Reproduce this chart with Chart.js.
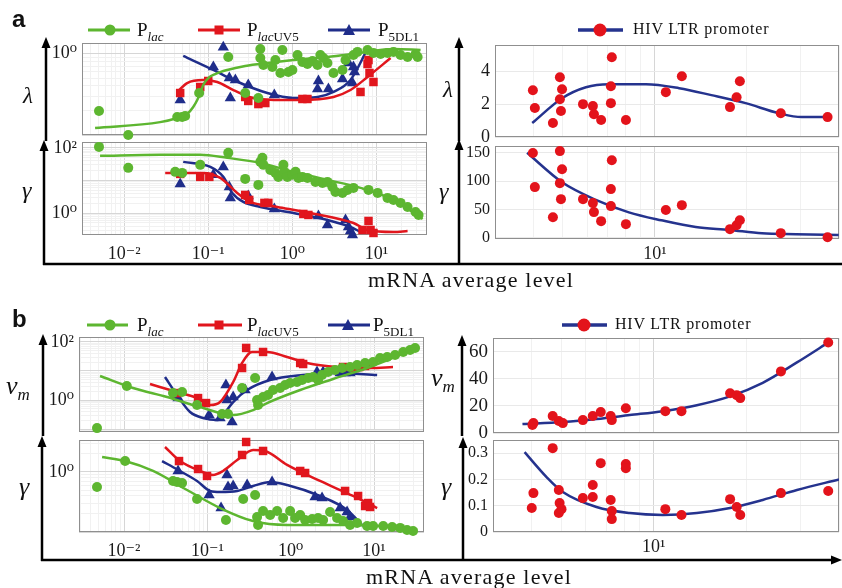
<!DOCTYPE html>
<html>
<head>
<meta charset="utf-8">
<script src="https://cdn.jsdelivr.net/npm/chart.js@4.4.0/dist/chart.umd.min.js"></script>
<style>
body { margin: 0; background: #fff; width: 842px; height: 588px; position: relative; overflow: hidden; font-family: 'Liberation Serif', 'DejaVu Serif', serif; color: #111; }
canvas { position: absolute; }
.t { position: absolute; line-height: 1; white-space: nowrap; }
.sym { font-style: italic; }
.lg { font-size: 19px; }
.lg sub { font-size: 13px; vertical-align: -5px; line-height: 0; }
</style>
</head>
<body>
<svg id="ov" width="842" height="588" style="position:absolute;left:0;top:0;pointer-events:none">
  <g stroke="#000" stroke-width="2.5" fill="#000">
    <!-- panel a axes -->
    <line x1="46" y1="141" x2="46" y2="45"/><polygon points="41.5,48 46,37 50.5,48" stroke="none"/>
    <line x1="44" y1="265" x2="44" y2="148"/><polygon points="39.5,151 44,140 48.5,151" stroke="none"/>
    <line x1="43" y1="264" x2="842" y2="264"/>
    <line x1="459" y1="141" x2="459" y2="45"/><polygon points="454.5,48 459,37 463.5,48" stroke="none"/>
    <line x1="459" y1="264" x2="459" y2="147"/><polygon points="454.5,150 459,139 463.5,150" stroke="none"/>
    <!-- panel b axes -->
    <line x1="43" y1="436" x2="43" y2="342"/><polygon points="38.5,345 43,334 47.5,345" stroke="none"/>
    <line x1="42" y1="561" x2="42" y2="444"/><polygon points="37.5,447 42,436 46.5,447" stroke="none"/>
    <line x1="41" y1="560" x2="834" y2="560"/><polygon points="831,555.5 842,560 831,564.5" stroke="none"/>
    <line x1="462" y1="436" x2="462" y2="343"/><polygon points="457.5,346 462,335 466.5,346" stroke="none"/>
    <line x1="463" y1="561" x2="463" y2="445"/><polygon points="458.5,448 463,437 467.5,448" stroke="none"/>
  </g>
  <!-- legend keys -->
  <g stroke-width="3">
    <line x1="88" y1="30" x2="130" y2="30" stroke="#5db630"/><circle cx="110" cy="30" r="5.5" fill="#5db630"/>
    <line x1="198" y1="30" x2="240" y2="30" stroke="#e1161d"/><rect x="214.5" y="25.5" width="9" height="9" fill="#e1161d"/>
    <line x1="328" y1="30" x2="370" y2="30" stroke="#1f2d8a"/><polygon points="349,24 343,35 355,35" fill="#1f2d8a"/>
    <line x1="578" y1="30" x2="623" y2="30" stroke="#25338e" stroke-width="3.5"/><circle cx="600" cy="30" r="6.5" fill="#e3131b"/>
    <line x1="87" y1="325" x2="128" y2="325" stroke="#5db630"/><circle cx="110" cy="325" r="5.5" fill="#5db630"/>
    <line x1="198" y1="325" x2="242" y2="325" stroke="#e1161d"/><rect x="214.5" y="320.5" width="9" height="9" fill="#e1161d"/>
    <line x1="328" y1="325" x2="370" y2="325" stroke="#1f2d8a"/><polygon points="348,319 342,330 354,330" fill="#1f2d8a"/>
    <line x1="562" y1="325" x2="607" y2="325" stroke="#25338e" stroke-width="3.5"/><circle cx="584" cy="325" r="6.5" fill="#e3131b"/>
  </g>
</svg>

<div class="t" style="left:12px;top:5px;font:bold 24px 'Liberation Sans',sans-serif">a</div>
<div class="t" style="left:12px;top:305px;font:bold 24px 'Liberation Sans',sans-serif">b</div>

<div class="t lg" style="left:137px;top:20px">P<sub><i>lac</i></sub></div>
<div class="t lg" style="left:247px;top:20px">P<sub><i>lac</i>UV5</sub></div>
<div class="t lg" style="left:378px;top:20px">P<sub>5DL1</sub></div>
<div class="t" style="left:633px;top:21px;font-size:16px;letter-spacing:0.8px">HIV LTR promoter</div>
<div class="t lg" style="left:137px;top:315px">P<sub><i>lac</i></sub></div>
<div class="t lg" style="left:247px;top:315px">P<sub><i>lac</i>UV5</sub></div>
<div class="t lg" style="left:373px;top:315px">P<sub>5DL1</sub></div>
<div class="t" style="left:615px;top:316px;font-size:16px;letter-spacing:0.8px">HIV LTR promoter</div>

<div class="t sym" style="left:23px;top:84px;font-size:23px">λ</div>
<div class="t sym" style="left:22px;top:178px;font-size:24px">γ</div>
<div class="t sym" style="left:443px;top:78px;font-size:23px">λ</div>
<div class="t sym" style="left:439px;top:179px;font-size:24px">γ</div>
<div class="t sym" style="left:6px;top:373px;font-size:26px">v<sub style="font-size:17px;vertical-align:-6px;line-height:0">m</sub></div>
<div class="t sym" style="left:19px;top:474px;font-size:26px">γ</div>
<div class="t sym" style="left:431px;top:365px;font-size:26px">v<sub style="font-size:17px;vertical-align:-6px;line-height:0">m</sub></div>
<div class="t sym" style="left:441px;top:474px;font-size:26px">γ</div>

<div class="t" style="left:368px;top:269px;font-size:22px;letter-spacing:1.2px">mRNA average level</div>
<div class="t" style="left:366px;top:566px;font-size:22px;letter-spacing:1.2px">mRNA average level</div>

<script>
// ----------------------
// Data
// ----------------------

// tick labels (exponents of ten on log axes, values on linear axes)
const leftXExps = [-2, -1, 0, 1];
const rightXExps = [1];
const aLamExps = [0];
const aGamExps = [0, 2];
const bVmExps = [0, 2];
const bGamExps = [0];
const aHivLamTicks = [0, 2, 4];
const aHivGamTicks = [0, 50, 100, 150];
const bHivVmTicks = [0, 20, 40, 60];
const bHivGamTicks = [0, 0.1, 0.2, 0.3];

// panel a, left, lambda
const aLamLacX = [0.00503, 0.0112, 0.0428, 0.049, 0.0532, 0.078, 0.173, 0.275, 0.394, 0.416, 0.416, 0.452, 0.578, 0.628, 0.76, 0.72, 0.896, 1.0, 1.15, 1.315, 1.51, 1.73, 1.99, 2.15, 2.34, 2.61, 3.08, 3.94, 4.28, 5.32, 5.94, 7.82, 9.2, 11.2, 13.5, 15.9, 19.3, 23.4, 29.1, 30.8];
const aLamLacY = [0.197, 0.1, 0.166, 0.166, 0.171, 0.328, 0.91, 0.328, 0.285, 1.14, 0.883, 0.724, 0.684, 0.834, 1.11, 0.578, 0.594, 0.629, 0.96, 0.789, 0.745, 0.811, 0.724, 0.96, 0.883, 0.767, 0.578, 0.629, 0.834, 0.96, 1.05, 1.11, 1.02, 0.99, 1.02, 1.05, 0.96, 0.91, 0.99, 0.91];
const aLamLacFitX = [0.00452, 0.0268, 0.0428, 0.0562, 0.0663, 0.074, 0.0803, 0.0871, 0.1, 0.121, 0.168, 0.275, 0.504, 1.03, 2.61, 6.45, 15.9, 33.4];
const aLamLacFitY = [0.122, 0.144, 0.162, 0.181, 0.221, 0.269, 0.328, 0.411, 0.501, 0.561, 0.629, 0.704, 0.767, 0.834, 0.91, 1.02, 1.14, 1.11];
const aLamUv5X = [0.0464, 0.0803, 0.1, 0.275, 0.299, 0.394, 0.477, 1.315, 1.51, 6.45, 7.82, 8.03, 8.25, 9.2];
const aLamUv5Y = [0.328, 0.389, 0.461, 0.293, 0.262, 0.24, 0.247, 0.277, 0.277, 0.338, 0.745, 0.834, 0.578, 0.448];
const aLamUv5FitX = [0.0428, 0.0562, 0.0871, 0.128, 0.199, 0.343, 0.782, 1.245, 3.08, 4.9, 7.82, 14.7];
const aLamUv5FitY = [0.338, 0.435, 0.474, 0.448, 0.357, 0.285, 0.269, 0.269, 0.293, 0.357, 0.516, 0.883];
const aLamDlX = [0.0464, 0.151, 0.115, 0.178, 0.21, 0.183, 0.299, 0.61, 2.04, 1.99, 2.68, 3.94, 4.64, 5.32, 5.47, 5.18];
const aLamDlY = [0.269, 1.2, 0.684, 0.501, 0.474, 0.285, 0.411, 0.31, 0.46, 0.367, 0.367, 0.488, 0.767, 0.684, 0.594, 0.435];
const aLamDlFitX = [0.0504, 0.115, 0.199, 0.504, 1.03, 1.99, 3.08, 4.9, 7.82];
const aLamDlFitY = [0.935, 0.629, 0.474, 0.328, 0.285, 0.293, 0.338, 0.474, 1.14];

// panel a, left, gamma
const aGamLacX = [0.00503, 0.0112, 0.0405, 0.049, 0.0803, 0.173, 0.275, 0.394, 0.44, 0.416, 0.452, 0.547, 0.628, 0.681, 0.782, 0.803, 0.872, 1.0, 1.09, 1.18, 1.315, 1.51, 1.88, 2.28, 2.61, 2.99, 3.25, 3.94, 4.52, 5.32, 8.03, 10.3, 13.5, 15.9, 19.3, 23.4, 29.1, 31.6];
const aGamLacY = [107, 24.4, 18.4, 17.1, 30.1, 70.3, 11.2, 7.33, 49.3, 37.2, 30.1, 21.1, 17.1, 12.9, 30.1, 18.4, 12.9, 14.9, 18.4, 12.0, 12.9, 12.0, 9.06, 8.44, 9.06, 6.36, 4.47, 4.17, 5.15, 5.93, 5.15, 4.17, 2.93, 2.54, 2.06, 1.55, 1.09, 0.88];
const aGamLacFitX = [0.00518, 0.0268, 0.0803, 0.168, 0.416, 1.03, 2.61, 6.45, 15.9, 35.3];
const aGamLacFitY = [56.9, 61, 61, 49.3, 34.7, 18.4, 10.4, 5.93, 2.54, 0.664];
const aGamUv5X = [0.0464, 0.0803, 0.103, 0.275, 0.307, 0.465, 0.518, 1.35, 1.55, 6.81, 8.03, 8.49, 9.2];
const aGamUv5Y = [15.9, 12.9, 12.9, 3.61, 2.54, 2.06, 2.06, 0.945, 0.88, 0.305, 0.576, 0.305, 0.247];
const aGamUv5FitX = [0.0308, 0.0871, 0.139, 0.221, 0.316, 0.663, 1.64, 5.32, 7.82, 15.9, 23.4];
const aGamUv5FitY = [17.1, 17.1, 12.0, 4.17, 2.21, 1.55, 1.01, 0.5, 0.305, 0.265, 0.284];
const aGamDlX = [0.0464, 0.151, 0.115, 0.178, 0.183, 0.299, 0.61, 2.04, 2.61, 4.28, 4.64, 4.9, 5.18];
const aGamDlY = [7.87, 26.1, 14.9, 6.36, 2.93, 3.37, 1.35, 0.82, 0.434, 0.618, 0.377, 0.284, 0.214];
const aGamDlFitX = [0.0504, 0.106, 0.151, 0.193, 0.261, 0.416, 1.03, 2.61, 4.9, 6.45];
const aGamDlFitY = [37.2, 26.1, 12.9, 4.17, 2.21, 1.55, 1.01, 0.618, 0.377, 0.265];

// panel a, right, HIV LTR promoter
const aHivX = [3.99, 4.05, 4.64, 4.89, 4.97, 4.89, 4.93, 5.82, 6.27, 6.32, 6.67, 7.23, 7.18, 7.18, 8.04, 10.86, 12.25, 17.6, 18.5, 18.96, 25.8, 36.7];
const aHivLam = [2.85, 1.76, 0.85, 3.64, 2.91, 2.3, 1.58, 2.0, 1.88, 1.39, 1.03, 4.85, 3.09, 2.06, 1.03, 2.73, 3.7, 1.82, 2.42, 3.39, 1.45, 1.21];
const aHivGam = [149.5, 89.5, 36.5, 153, 121, 96.5, 68.3, 68.3, 61.3, 45.4, 29.5, 137, 86, 56, 24.2, 49, 57.7, 15.4, 22.4, 31.2, 8.3, 1.2];
const aHivLamFitX = [3.97, 4.97, 5.95, 7.08, 9.35, 12.0, 15.3, 19.8, 25.4, 30.2, 37.8];
const aHivLamFitY = [0.85, 2.36, 3.03, 3.21, 3.21, 2.97, 2.55, 2.06, 1.45, 1.21, 1.21];
const aHivGamFitX = [3.82, 4.97, 6.41, 8.22, 10.5, 13.6, 17.5, 22.4, 28.9, 39.9];
const aHivGamFitY = [150, 98, 67, 45, 31, 19, 14, 8, 6.5, 5];

// panel b, left, v_m
const bVmLacX = [0.00474, 0.0108, 0.0387, 0.0497, 0.0752, 0.15, 0.177, 0.261, 0.374, 0.395, 0.406, 0.466, 0.535, 0.615, 0.746, 0.857, 0.984, 1.19, 1.37, 1.62, 1.86, 2.13, 2.38, 2.81, 3.41, 4.14, 5.16, 6.27, 7.82, 9.75, 11.8, 14.4, 17.9, 22.4, 27.1, 31.1];
const bVmLacY = [0.108, 3.04, 1.74, 1.89, 0.672, 0.329, 0.329, 2.59, 5.74, 1.0, 0.672, 1.27, 1.49, 2.21, 2.59, 3.29, 3.86, 4.18, 4.89, 5.74, 6.21, 4.89, 7.28, 9.24, 10.8, 12.7, 13.7, 16.1, 18.9, 20.4, 28.1, 30.4, 35.6, 45.2, 53, 62.1];
const bVmLacFitX = [0.00515, 0.0128, 0.0328, 0.0817, 0.204, 0.354, 0.521, 1.3, 3.23, 8.26, 20.6, 32.9];
const bVmLacFitY = [6.7, 2.59, 1.27, 0.574, 0.304, 0.452, 0.788, 2.21, 5.3, 12.7, 35.6, 67.3];
const bVmUv5X = [0.0432, 0.0773, 0.0964, 0.261, 0.292, 0.466, 1.3, 1.41, 4.25, 5.93, 6.62, 7.82, 8.73];
const bVmUv5Y = [1.74, 1.17, 0.788, 12.7, 62.1, 45.2, 18.9, 17.4, 13.7, 12.7, 13.7, 14.9, 17.4];
const bVmUv5FitX = [0.0205, 0.0432, 0.0752, 0.108, 0.142, 0.204, 0.261, 0.344, 0.521, 0.906, 1.57, 3.6, 8.97, 16.9];
const bVmUv5FitY = [3.56, 1.89, 1.17, 0.672, 0.853, 4.18, 18.9, 45.2, 45.2, 30.4, 18.9, 13.7, 12.7, 13.7];
const bVmDlX = [0.041, 0.0445, 0.105, 0.142, 0.167, 0.172, 0.198, 0.204, 0.284, 0.598, 2.07, 2.45, 3.92, 4.5, 5.16];
const bVmDlY = [1.49, 1.17, 0.304, 0.24, 3.29, 1.0, 0.174, 1.27, 2.21, 6.21, 9.24, 9.24, 8.53, 8.53, 8.53];
const bVmDlFitX = [0.031, 0.0432, 0.062, 0.0887, 0.131, 0.154, 0.204, 0.3, 0.566, 1.41, 3.6, 10.9];
const bVmDlFitY = [6.21, 1.49, 0.386, 0.24, 0.204, 0.304, 0.853, 2.21, 4.89, 7.28, 8.53, 7.28];

// panel b, left, gamma
const bGamLacX = [0.00474, 0.0103, 0.0387, 0.0432, 0.0497, 0.0752, 0.167, 0.269, 0.374, 0.395, 0.406, 0.466, 0.567, 0.687, 0.811, 0.984, 1.13, 1.3, 1.49, 1.81, 2.13, 2.45, 2.97, 3.6, 4.25, 5.16, 6.27, 8.26, 9.75, 12.9, 16.5, 20.6, 24.9, 29.4];
const bGamLacY = [0.562, 1.52, 0.708, 0.681, 0.655, 0.355, 0.158, 0.355, 0.414, 0.178, 0.131, 0.224, 0.192, 0.224, 0.171, 0.224, 0.171, 0.192, 0.158, 0.165, 0.171, 0.158, 0.215, 0.171, 0.152, 0.131, 0.141, 0.126, 0.126, 0.126, 0.121, 0.117, 0.108, 0.104];
const bGamLacFitX = [0.00545, 0.0103, 0.0223, 0.057, 0.142, 0.354, 0.906, 5.61, 22.4, 33];
const bGamLacFitY = [1.78, 1.52, 1.04, 0.501, 0.251, 0.152, 0.131, 0.131, 0.117, 0.11];
const bGamUv5X = [0.0457, 0.0773, 0.099, 0.292, 0.261, 0.466, 1.3, 1.49, 4.5, 6.44, 7.82, 8.49, 8.97];
const bGamUv5Y = [1.52, 1.12, 0.858, 3.16, 1.92, 2.24, 1.04, 0.962, 0.483, 0.398, 0.271, 0.304, 0.261];
const bGamUv5FitX = [0.031, 0.047, 0.0817, 0.117, 0.154, 0.228, 0.354, 0.493, 0.906, 2.25, 5.61, 10.9];
const bGamUv5FitY = [2.61, 1.52, 1.04, 0.891, 1.04, 1.58, 2.33, 2.24, 1.31, 0.708, 0.398, 0.251];
const bGamDlX = [0.0445, 0.105, 0.172, 0.146, 0.177, 0.204, 0.3, 0.598, 1.96, 2.38, 3.92, 4.75, 5.16];
const bGamDlY = [1.04, 0.414, 0.891, 0.251, 0.562, 0.584, 0.607, 0.681, 0.383, 0.369, 0.251, 0.215, 0.178];
const bGamDlFitX = [0.0286, 0.0445, 0.0752, 0.108, 0.142, 0.228, 0.354, 0.566, 0.906, 2.25, 4.75, 7.39];
const bGamDlFitY = [1.52, 1.08, 0.708, 0.483, 0.464, 0.483, 0.584, 0.681, 0.607, 0.398, 0.233, 0.126];

// panel b, right, HIV LTR promoter
const bHivVmX = [4.06, 4.03, 4.69, 4.91, 5.06, 5.88, 6.33, 6.72, 7.24, 7.3, 8.11, 10.9, 12.3, 17.7, 18.6, 19.1, 25.9, 36.9];
const bHivVm = [7.3, 5.9, 12.5, 8.8, 7.3, 9.5, 12.5, 15.4, 12.5, 9.5, 18.3, 16.1, 16.1, 29.3, 27.9, 25.7, 45.4, 66.7];
const bHivVmFitX = [3.74, 5.06, 6.51, 8.35, 10.7, 13.8, 17.7, 22.6, 29.2, 37.4];
const bHivVmFitY = [6.6, 8.1, 10.3, 13.2, 16.1, 20.5, 27, 37, 52, 67.5];
const bHivGamX = [4.01, 4.06, 4.69, 4.91, 4.94, 4.91, 5.01, 5.88, 6.33, 6.33, 6.72, 7.24, 7.3, 7.3, 8.11, 8.11, 10.9, 12.3, 17.7, 18.6, 19.1, 25.9, 36.9];
const bHivGam = [0.091, 0.148, 0.319, 0.16, 0.11, 0.072, 0.087, 0.129, 0.179, 0.133, 0.262, 0.122, 0.08, 0.049, 0.259, 0.243, 0.087, 0.065, 0.125, 0.095, 0.065, 0.148, 0.156];
const bHivGamFitX = [3.8, 4.48, 5.06, 6.51, 8.35, 10.7, 13.8, 17.7, 22.6, 29.2, 40];
const bHivGamFitY = [0.304, 0.209, 0.152, 0.095, 0.072, 0.065, 0.072, 0.091, 0.122, 0.16, 0.2];

// ----------------------
// Styling helpers
// ----------------------
const GREEN = '#5db630', RED = '#e1161d', BLUE = '#1f2d8a', NAVY = '#25338e', DOT = '#e3131b';
const SUP = { '-2': '⁻²', '-1': '⁻¹', '0': '⁰', '1': '¹', '2': '²' };

Chart.defaults.font.family = "'Liberation Serif', 'DejaVu Serif', serif";
Chart.defaults.color = '#1a1a1a';

function zip(xs, ys) { return xs.map((x, i) => ({ x: x, y: ys[i] })); }
function isDecade(v) { const l = Math.log10(v); return Math.abs(l - Math.round(l)) < 1e-6; }

// 1..9 x 10^n ticks inside the range (gridlines of a log axis)
function logTicks(min, max) {
    const out = [];
    for (let e = Math.floor(Math.log10(min)); e <= Math.ceil(Math.log10(max)); e++) {
        for (let m = 1; m <= 9; m++) {
            const v = m * Math.pow(10, e);
            if (v >= min * 0.999 && v <= max * 1.001) out.push(v);
        }
    }
    return out;
}

function pts(xs, ys, color, style, r) {
    return { data: zip(xs, ys), pointStyle: style, pointRadius: r, backgroundColor: color,
        borderColor: color, pointBorderWidth: 0, showLine: false, clip: false };
}
function fit(xs, ys, color) {
    return { data: zip(xs, ys), borderColor: color, borderWidth: 2.5, pointRadius: 0,
        showLine: true, cubicInterpolationMode: 'monotone' };
}

// box around the plotting area
const frame = {
    id: 'frame',
    beforeDatasetsDraw(chart) {
        const a = chart.chartArea, c = chart.ctx;
        c.save();
        c.strokeStyle = '#8f8f8f';
        c.lineWidth = 1;
        c.strokeRect(Math.round(a.left) + 0.5, Math.round(a.top) + 0.5,
            Math.round(a.right - a.left) - 1, Math.round(a.bottom - a.top) - 1);
        c.restore();
    }
};

function axis(s, dir, size) {
    const log = s.type !== 'linear';
    const labels = s.labels || [];
    return {
        type: log ? 'logarithmic' : 'linear',
        position: dir === 'x' ? 'bottom' : 'left',
        min: s.min,
        max: s.max,
        afterBuildTicks: sc => {
            sc.ticks = (log ? logTicks(s.min, s.max) : s.ticks).map(v => ({ value: v }));
        },
        afterFit: sc => {
            if (dir === 'x') sc.height = size; else sc.width = size;
            sc.paddingTop = sc.paddingBottom = sc.paddingLeft = sc.paddingRight = 0;
        },
        ticks: {
            display: !!(s.labels || s.ticks),
            autoSkip: false,
            maxRotation: 0,
            padding: s.pad || 5,
            font: { size: s.size || 18 },
            callback: v => {
                if (!log) return String(v);
                const e = Math.round(Math.log10(v));
                return isDecade(v) && labels.includes(e) ? '10' + SUP[e] : '';
            }
        },
        grid: {
            drawTicks: false,
            lineWidth: 1,
            color: ctx => (ctx.tick && log && isDecade(ctx.tick.value)) ? '#d6d6d6' : (log ? '#f1f1f1' : '#e9e9e9')
        },
        border: { display: false }
    };
}

const overlay = document.getElementById('ov');

function makePanel(box, xs, ys, datasets) {
    const [x0, y0, x1, y1] = box;
    const yw = 70, pt = 14, pr = 12, xh = xs.labels ? 30 : 12;
    const cv = document.createElement('canvas');
    cv.width = x1 - x0 + yw + pr;
    cv.height = y1 - y0 + pt + xh;
    cv.style.left = (x0 - yw) + 'px';
    cv.style.top = (y0 - pt) + 'px';
    document.body.insertBefore(cv, overlay);
    new Chart(cv, {
        type: 'scatter',
        data: { datasets },
        options: {
            responsive: false,
            animation: false,
            devicePixelRatio: 1,
            events: [],
            layout: { padding: { top: pt, right: pr, left: 0, bottom: 0 } },
            plugins: { legend: { display: false }, tooltip: { enabled: false } },
            scales: { x: axis(xs, 'x', xh), y: axis(ys, 'y', yw) }
        },
        plugins: [frame]
    });
}

// ----------------------
// Panels
// ----------------------
const leftXa = { min: 0.00316, max: 39.8 };
const leftXb = { min: 0.00288, max: 39.8 };
const rightX = { min: 3, max: 40 };

makePanel([82, 43, 427, 135], leftXa, { min: 0.1, max: 1.35, labels: aLamExps }, [
    pts(aLamLacX, aLamLacY, GREEN, 'circle', 5), fit(aLamLacFitX, aLamLacFitY, GREEN),
    pts(aLamUv5X, aLamUv5Y, RED, 'rect', 6), fit(aLamUv5FitX, aLamUv5FitY, RED),
    pts(aLamDlX, aLamDlY, BLUE, 'triangle', 6.5), fit(aLamDlFitX, aLamDlFitY, BLUE)
]);
makePanel([82, 142, 427, 235], { ...leftXa, labels: leftXExps, pad: 8 }, { min: 0.214, max: 151, labels: aGamExps }, [
    pts(aGamLacX, aGamLacY, GREEN, 'circle', 5), fit(aGamLacFitX, aGamLacFitY, GREEN),
    pts(aGamUv5X, aGamUv5Y, RED, 'rect', 6), fit(aGamUv5FitX, aGamUv5FitY, RED),
    pts(aGamDlX, aGamDlY, BLUE, 'triangle', 6.5), fit(aGamDlFitX, aGamDlFitY, BLUE)
]);
makePanel([495, 45, 839, 137], rightX, { type: 'linear', min: 0, max: 5.6, ticks: aHivLamTicks, size: 18 }, [
    pts(aHivX, aHivLam, DOT, 'circle', 5), fit(aHivLamFitX, aHivLamFitY, NAVY)
]);
makePanel([495, 146, 839, 239], { ...rightX, labels: rightXExps, pad: 4 }, { type: 'linear', min: -2, max: 162, ticks: aHivGamTicks, size: 16 }, [
    pts(aHivX, aHivGam, DOT, 'circle', 5), fit(aHivGamFitX, aHivGamFitY, NAVY)
]);

makePanel([79, 337, 424, 432], leftXb, { min: 0.0794, max: 148, labels: bVmExps }, [
    pts(bVmLacX, bVmLacY, GREEN, 'circle', 5), fit(bVmLacFitX, bVmLacFitY, GREEN),
    pts(bVmUv5X, bVmUv5Y, RED, 'rect', 6), fit(bVmUv5FitX, bVmUv5FitY, RED),
    pts(bVmDlX, bVmDlY, BLUE, 'triangle', 6.5), fit(bVmDlFitX, bVmDlFitY, BLUE)
]);
makePanel([79, 440, 424, 532], { ...leftXb, labels: leftXExps, pad: 8 }, { min: 0.1, max: 3.41, labels: bGamExps }, [
    pts(bGamLacX, bGamLacY, GREEN, 'circle', 5), fit(bGamLacFitX, bGamLacFitY, GREEN),
    pts(bGamUv5X, bGamUv5Y, RED, 'rect', 6), fit(bGamUv5FitX, bGamUv5FitY, RED),
    pts(bGamDlX, bGamDlY, BLUE, 'triangle', 6.5), fit(bGamDlFitX, bGamDlFitY, BLUE)
]);
makePanel([493, 338, 839, 433], rightX, { type: 'linear', min: 0, max: 70, ticks: bHivVmTicks, size: 19 }, [
    pts(bHivVmX, bHivVm, DOT, 'circle', 5), fit(bHivVmFitX, bHivVmFitY, NAVY)
]);
makePanel([493, 440, 839, 532], { ...rightX, labels: rightXExps, pad: 4 }, { type: 'linear', min: 0, max: 0.35, ticks: bHivGamTicks, size: 16 }, [
    pts(bHivGamX, bHivGam, DOT, 'circle', 5), fit(bHivGamFitX, bHivGamFitY, NAVY)
]);
</script>
</body>
</html>
